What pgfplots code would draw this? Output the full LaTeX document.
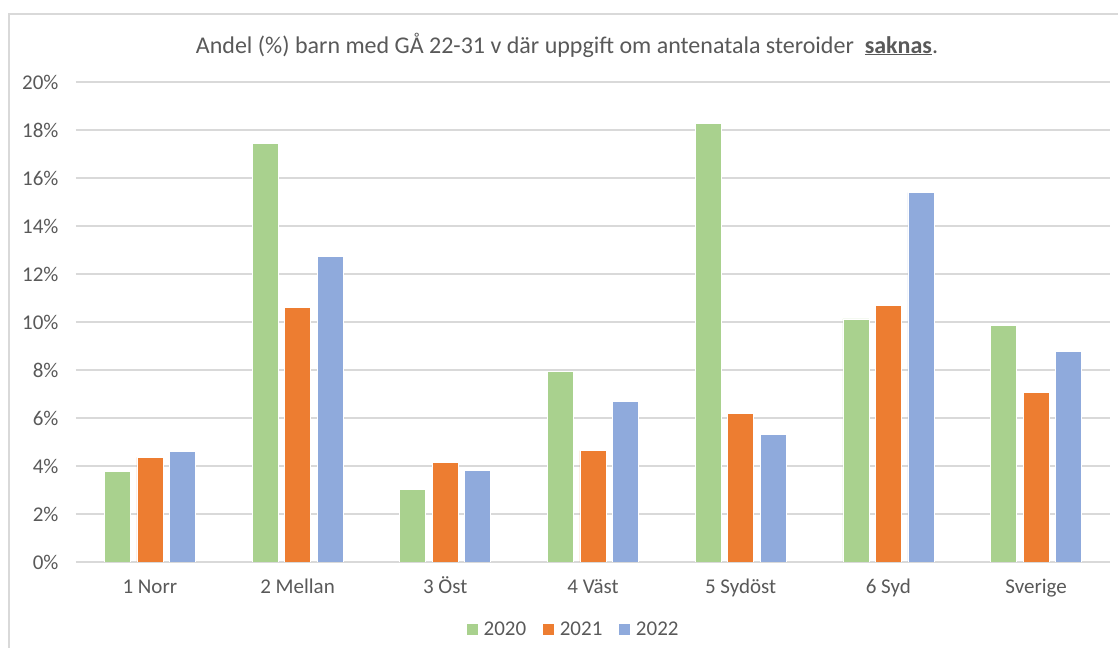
\documentclass[border=0pt]{standalone}
\usepackage{pgfplots}
\pgfplotsset{compat=1.18}
\usepackage{fontspec}
\setmainfont{Carlito}
\definecolor{cgreen}{HTML}{A9D18E}
\definecolor{corange}{HTML}{ED7D31}
\definecolor{cblue}{HTML}{8FAADC}
\definecolor{ctext}{HTML}{595959}
\definecolor{cgrid}{HTML}{D9D9D9}
\begin{document}
\begin{tikzpicture}[x=1bp,y=1bp]
\useasboundingbox (-76,-86) rectangle (1042,562);
\draw[cgrid, line width=1.2bp] (-67,-90) -- (-67,548) -- (1050,548);
\begin{axis}[
  at={(0,0)}, anchor=south west,
  scale only axis, width=1034bp, height=480bp,
  ybar=6.5bp, bar width=26bp,
  xmin=-0.5, xmax=6.5, ymin=0, ymax=20,
  xtick={0,1,2,3,4,5,6},
  xticklabels={1 Norr,2 Mellan,3 Öst,4 Väst,5 Sydöst,6 Syd,Sverige},
  ytick={0,2,4,6,8,10,12,14,16,18,20},
  yticklabels={0\%,2\%,4\%,6\%,8\%,10\%,12\%,14\%,16\%,18\%,20\%},
  major tick length=0pt,
  axis line style={draw=none},
  ymajorgrids, grid style={cgrid, line width=1.2bp},
  tick label style={font=\fontsize{21bp}{24bp}\selectfont, text=ctext},
  yticklabel style={xshift=-14bp},
  xticklabel style={anchor=base, yshift=-32bp},
  legend style={draw=none, fill=none, at={(0.481,-0.14)}, anchor=center,
    font=\fontsize{21bp}{24bp}\selectfont, text=ctext, legend columns=3,
    /tikz/every even column/.append style={column sep=14bp}},
  legend image code/.code={\fill[#1] (0bp,-6bp) rectangle (12bp,6bp); \path (15bp,0bp);},
]
\addplot[fill=cgreen, draw=white, line width=0.6bp] coordinates {(0,3.78) (1,17.43) (2,3.01) (3,7.94) (4,18.26) (5,10.13) (6,9.86)};
\addplot[fill=corange, draw=white, line width=0.6bp] coordinates {(0,4.36) (1,10.60) (2,4.14) (3,4.64) (4,6.19) (5,10.69) (6,7.07)};
\addplot[fill=cblue, draw=white, line width=0.6bp] coordinates {(0,4.61) (1,12.74) (2,3.81) (3,6.68) (4,5.33) (5,15.39) (6,8.78)};
\legend{2020,2021,2022}
\end{axis}
\node[text=ctext, font=\fontsize{24bp}{28bp}\selectfont] at (491,517) {Andel (\%) barn med GÅ 22-31 v där uppgift om antenatala steroider\ \ \underline{\textbf{saknas}}.};
\end{tikzpicture}
\end{document}
